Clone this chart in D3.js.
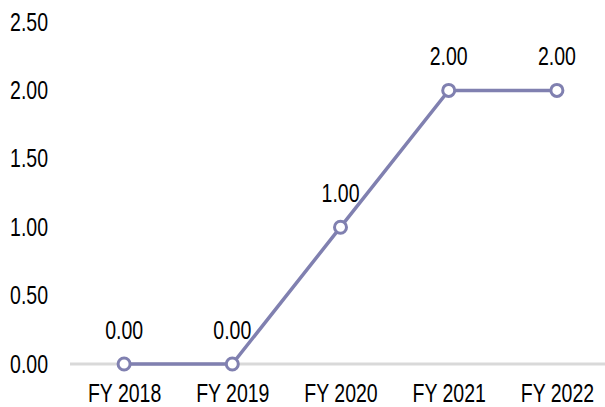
<!DOCTYPE html>
<html>
<head>
<meta charset="utf-8">
<script src="https://cdn.jsdelivr.net/npm/d3@7"></script>
<style>
  body { margin: 0; background: #fff; }
  svg text { font-family: "Liberation Sans", Arial, sans-serif; font-size: 25px; fill: #000; }
</style>
</head>
<body>
<svg id="chart"></svg>
<script>
// chart data
const years = ["FY 2018", "FY 2019", "FY 2020", "FY 2021", "FY 2022"];
const values = [0, 0, 1, 2, 2];
const yTicks = [0, 0.5, 1, 1.5, 2, 2.5];

const width = 605, height = 407;
const margin = {top: 22, right: -6, bottom: 43, left: 70};

const svg = d3.select('#chart')
    .attr('width', width)
    .attr('height', height);

const scaleX = d3.scalePoint()
    .domain(years)
    .range([margin.left, width - margin.right])
    .padding(0.5);
const scaleY = d3.scaleLinear()
    .domain([0, 2.5])
    .range([height - margin.bottom, margin.top]);

// y tick labels (no axis line, no tick marks)
const axisLeft = d3.axisLeft(scaleY)
    .tickValues(yTicks)
    .tickFormat(d3.format('.2f'))
    .tickSize(0)
    .tickPadding(0);
svg.append('g')
    .attr('transform', 'translate(48,0)')
    .call(axisLeft)
    .call(g => g.select('.domain').remove());

// bottom axis: light grey baseline
const axisBottom = d3.axisBottom(scaleX).tickSize(0).tickPadding(20);
svg.append('g')
    .attr('transform', `translate(0,${scaleY(0)})`)
    .call(axisBottom)
    .call(g => g.select('.domain')
        .attr('d', `M${margin.left},0H${width}`)
        .attr('stroke', '#d9d9d9')
        .attr('stroke-width', 3));

// the line
const line = d3.line()
    .x((d, i) => scaleX(years[i]))
    .y(d => scaleY(d));

svg.append('path')
    .datum(values)
    .attr('d', line)
    .attr('fill', 'none')
    .attr('stroke', '#8080b0')
    .attr('stroke-width', 3.5);

svg.selectAll('circle.pt')
    .data(values)
    .join('circle')
    .attr('class', 'pt')
    .attr('cx', (d, i) => scaleX(years[i]))
    .attr('cy', d => scaleY(d))
    .attr('r', 6)
    .attr('fill', '#fff')
    .attr('stroke', '#8080b0')
    .attr('stroke-width', 3);

svg.selectAll('text.lbl')
    .data(values)
    .join('text')
    .attr('class', 'lbl')
    .attr('x', (d, i) => scaleX(years[i]))
    .attr('y', d => scaleY(d) - 25)
    .attr('text-anchor', 'middle')
    .text(d => d3.format('.2f')(d));

// axes text styles reset by d3 axis; put ours back
svg.selectAll('.tick text')
    .attr('font-family', null)
    .attr('font-size', null)
    .attr('fill', '#000');

// narrow the glyphs like Arial Narrow
svg.selectAll('text').each(function() {
    const t = d3.select(this);
    const x = +t.attr('x') || 0, y = +t.attr('y') || 0;
    t.attr('x', 0).attr('y', 0)
        .attr('transform', `translate(${x},${y}) scale(0.78,1)`);
});
</script>
</body>
</html>
